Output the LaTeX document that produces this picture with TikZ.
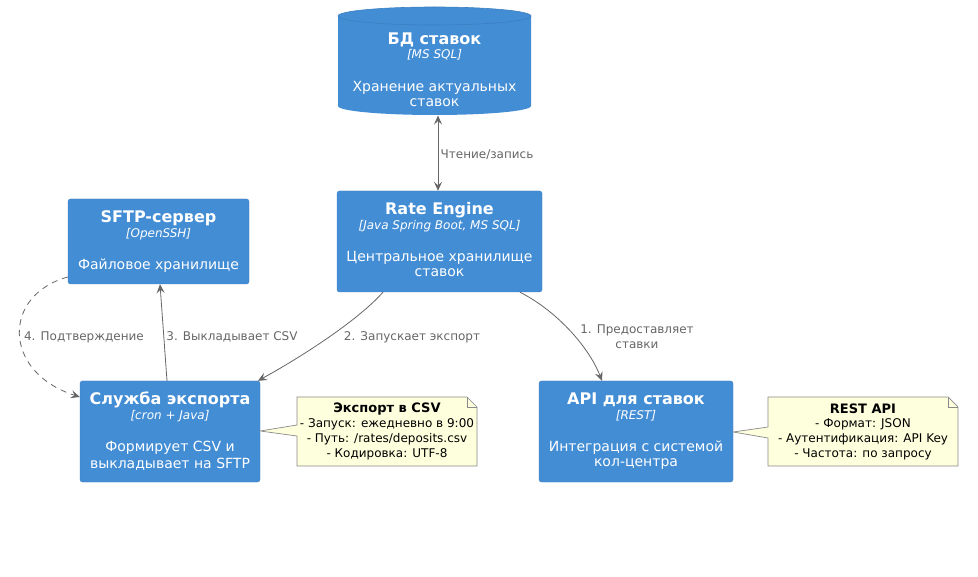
\documentclass[tikz,border=0pt]{standalone}
\usepackage{fontspec}
\setmainfont{DejaVu Sans}
\usetikzlibrary{arrows.meta}
\definecolor{boxfill}{HTML}{438DD5}
\definecolor{boxline}{HTML}{3C7FC0}
\definecolor{notefill}{HTML}{FEFFDD}
\definecolor{noteline}{HTML}{8A8A8A}
\definecolor{conn}{HTML}{666666}
\tikzset{
  cbox/.style={draw=boxline, fill=boxfill, rounded corners=2.5pt, inner sep=0pt},
  ghost/.style={inner sep=0pt, outer sep=0pt},
  ttl/.style={text=white, font=\bfseries\fontsize{16}{19}\selectfont, inner sep=0pt},
  tech/.style={text=white, font=\itshape\fontsize{12}{14}\selectfont, inner sep=0pt},
  desc/.style={text=white, font=\fontsize{14}{16}\selectfont, inner sep=0pt},
  lbl/.style={text=conn, font=\fontsize{12}{15}\selectfont, inner sep=0pt, align=center},
  notetxt/.style={text=black, font=\fontsize{12}{15}\selectfont, inner sep=0pt, align=center},
  notettl/.style={notetxt, font=\bfseries\fontsize{13}{15}\selectfont},
  rel/.style={draw=conn, line width=0.8pt, -{Stealth[length=9pt,width=8pt,inset=3.5pt]}},
  notebody/.style={draw=noteline, fill=notefill, line width=0.7pt}
}
\begin{document}
\begin{tikzpicture}[x=1pt,y=-1pt]
\useasboundingbox (0,0) rectangle (978,577);
\fill[white] (0,0) rectangle (978,577);

% Database cylinder
\fill[boxfill] (338,16) -- (338,106) arc[start angle=180,end angle=360,x radius=96.5pt,y radius=9pt] -- (531,16) -- cycle;
\filldraw[fill=boxfill, draw=boxline, line width=0.6pt] (434.5,16) ellipse [x radius=96.5pt, y radius=9pt];
\node[ghost, minimum width=193pt, minimum height=109pt] (db) at (434.5,61) {};
\node[ttl] (dbT) at (434.5,40) {БД ставок};
\node[tech] (dbTech) at (434.5,55) {[MS SQL]};
\node[desc] (dbD1) at (434.5,88) {Хранение актуальных};
\node[desc] (dbD2) at (434.5,103) {ставок};

% Rate Engine
\node[cbox, minimum width=205pt, minimum height=101pt] (re) at (439.5,241.5) {};
\node[ttl] (reT) at (439.5,210) {Rate Engine};
\node[tech] (reTech) at (439.5,226) {[Java Spring Boot, MS SQL]};
\node[desc] (reD1) at (439.5,258) {Центральное хранилище};
\node[desc] (reD2) at (439.5,273) {ставок};

% SFTP server
\node[cbox, minimum width=181pt, minimum height=85pt] (sftp) at (158.5,241.5) {};
\node[ttl] (sftpT) at (158.5,218) {SFTP-сервер};
\node[tech] (sftpTech) at (158.5,234) {[OpenSSH]};
\node[desc] (sftpD) at (158.5,266) {Файловое хранилище};

% Export service
\node[cbox, minimum width=180pt, minimum height=101pt] (svc) at (170,431.5) {};
\node[ttl] (svcT) at (170,400) {Служба экспорта};
\node[tech] (svcTech) at (170,416) {[cron + Java]};
\node[desc] (svcD1) at (170,448) {Формирует CSV и};
\node[desc] (svcD2) at (170,464) {выкладывает на SFTP};

% API
\node[cbox, minimum width=194pt, minimum height=101pt] (api) at (636,431.5) {};
\node[ttl] (apiT) at (636,400) {API для ставок};
\node[tech] (apiTech) at (636,416) {[REST]};
\node[desc] (apiD1) at (636,448) {Интеграция с системой};
\node[desc] (apiD2) at (636,464) {кол-центра};

% Note 1
\node[ghost, minimum width=180pt, minimum height=69pt] (n1) at (387,431.5) {};
\draw[notebody] (n1.north west) -- ([xshift=-10pt]n1.north east) -- ([yshift=-10pt]n1.north east) -- (n1.south east) -- (n1.south west) -- (297,436) -- (svc.east |- 0,431) -- (297,425) -- cycle;
\draw[notebody, fill=none] ([xshift=-10pt]n1.north east) -- ([xshift=-10pt,yshift=-10pt]n1.north east) -- ([yshift=-10pt]n1.north east);
\node[notettl] (n1a) at (387,409) {Экспорт в CSV};
\node[notetxt] (n1b) at (387,424) {- Запуск: ежедневно в 9:00};
\node[notetxt] (n1c) at (387,439) {- Путь: /rates/deposits.csv};
\node[notetxt] (n1d) at (387,454) {- Кодировка: UTF-8};

% Note 2
\node[ghost, minimum width=190pt, minimum height=69pt] (n2) at (863,431.5) {};
\draw[notebody] (n2.north west) -- ([xshift=-10pt]n2.north east) -- ([yshift=-10pt]n2.north east) -- (n2.south east) -- (n2.south west) -- (768,438) -- (api.east |- 0,432) -- (768,427) -- cycle;
\draw[notebody, fill=none] ([xshift=-10pt]n2.north east) -- ([xshift=-10pt,yshift=-10pt]n2.north east) -- ([yshift=-10pt]n2.north east);
\node[notettl] (n2a) at (863,409) {REST API};
\node[notetxt] (n2b) at (863,424) {- Формат: JSON};
\node[notetxt] (n2c) at (863,439) {- Аутентификация: API Key};
\node[notetxt] (n2d) at (863,454) {- Частота: по запросу};

% Connectors
\draw[rel, {Stealth[length=9pt,width=8pt,inset=3.5pt]}-{Stealth[length=9pt,width=8pt,inset=3.5pt]}] (db.south -| 438,0) -- (re.north -| 438,0);
\node[lbl] (l0) at (487,155) {Чтение/запись};

\draw[rel] ([xshift=-56.5pt]re.south) .. controls (360,318) and (310,352) .. ([xshift=88pt]svc.north);
\node[lbl] (l2) at (412,337) {2. Запускает экспорт};

\draw[rel] ([xshift=80.5pt]re.south) .. controls (555,310) and (588,345) .. ([xshift=-34pt]api.north);
\node[lbl] (l1) at (637,336.5) {1. Предоставляет\\ставки};

\draw[rel] ([xshift=-3pt]svc.north) -- ([xshift=1.5pt]sftp.south);
\node[lbl] (l3) at (232,337) {3. Выкладывает CSV};

\draw[rel, dashed, dash pattern=on 6pt off 5pt] ([yshift=-35.5pt]sftp.west) .. controls (2,295) and (2,372) .. ([yshift=34.5pt]svc.west);
\node[lbl] (l4) at (84,337) {4. Подтверждение};
\end{tikzpicture}
\end{document}
